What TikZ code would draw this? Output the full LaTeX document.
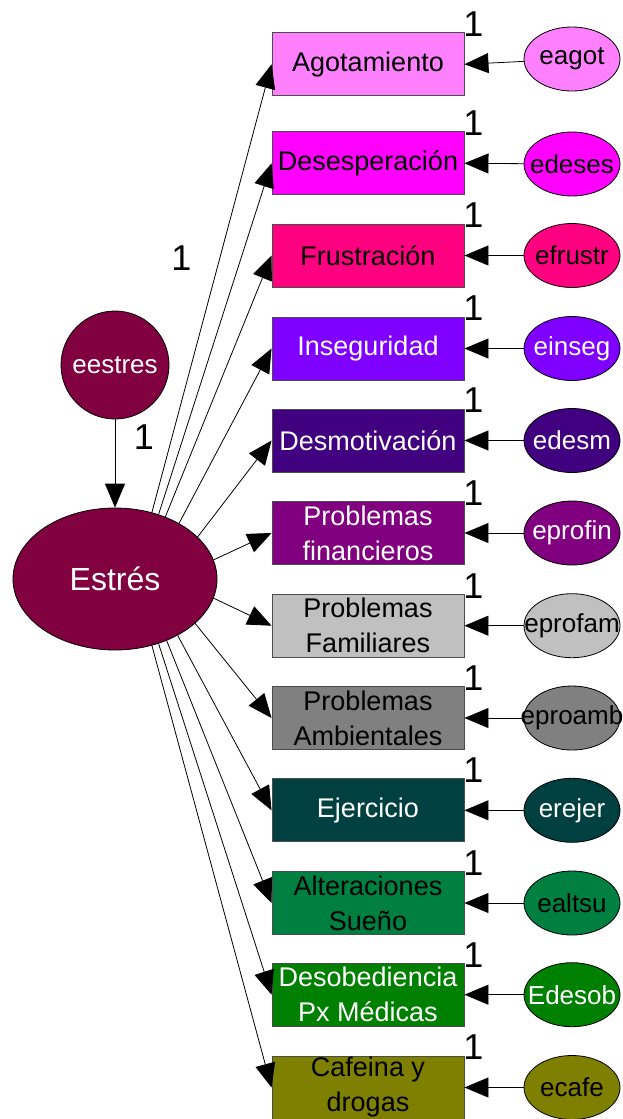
\documentclass[tikz,border=0pt]{standalone}
\usepackage{fontspec}
\setmainfont{Liberation Sans}
\usetikzlibrary{shapes.geometric,arrows.meta}
\definecolor{cA}{HTML}{FF80FF}
\definecolor{cB}{HTML}{FF00FF}
\definecolor{cC}{HTML}{FF0080}
\definecolor{cD}{HTML}{8000FF}
\definecolor{cEe}{HTML}{400080}
\definecolor{cF}{HTML}{800080}
\definecolor{cG}{HTML}{C0C0C0}
\definecolor{cH}{HTML}{808080}
\definecolor{cI}{HTML}{004040}
\definecolor{cJ}{HTML}{008040}
\definecolor{cK}{HTML}{008000}
\definecolor{cL}{HTML}{808000}
\definecolor{cS}{HTML}{800040}
\begin{document}
\begin{tikzpicture}[x=1pt,y=-1pt,
  obs/.style={draw=black!70, line width=0.9pt, minimum width=192pt, minimum height=63pt, inner sep=0pt, align=center, font=\fontsize{27}{35}\selectfont},
  err/.style={ellipse, draw=black, line width=0.8pt, minimum width=96pt, minimum height=64pt, inner sep=0pt, font=\fontsize{26}{30}\selectfont},
  arr/.style={-{Triangle[length=24pt,width=20pt]}, line width=0.8pt},
  one/.style={font=\fontsize{36}{36}\selectfont, inner sep=0pt}]
\useasboundingbox (0,0) rectangle (622,1119);

% latent
\node[circle, draw=black, line width=0.8pt, fill=cS, minimum size=108pt, inner sep=0pt, text=white, font=\fontsize{26}{30}\selectfont] (ee) at (115,365) {eestres};
\node[ellipse, draw=black, line width=0.8pt, fill=cS, minimum width=204pt, minimum height=142pt, inner sep=0pt, text=white, font=\fontsize{32}{36}\selectfont] (E) at (115,579) {Estrés};
\draw[arr] (ee) -- (E);
\node[one] (l0) at (144,437) {1};
\node[one] (l00) at (181.5,258.5) {1};

% observed
\node[obs, fill=cA, text=black] (A) at (368,64.3) {Agotamiento};
\node[obs, fill=cB, text=black] (B) at (368,163.3) {Desesperación};
\node[obs, fill=cC, text=black] (C) at (368,255.5) {Frustración};
\node[obs, fill=cD, text=white] (D) at (368,348.5) {Inseguridad};
\node[obs, fill=cEe, text=white] (Dm) at (368,440.5) {Desmotivación};
\node[obs, fill=cF, text=white] (F) at (368,533) {Problemas\\financieros};
\node[obs, fill=cG, text=black] (G) at (368,625.7) {Problemas\\Familiares};
\node[obs, fill=cH, text=black] (H) at (368,718) {Problemas\\Ambientales};
\node[obs, fill=cI, text=white] (I) at (368,810.3) {Ejercicio};
\node[obs, fill=cJ, text=black] (J) at (368,903) {Alteraciones\\Sueño};
\node[obs, fill=cK, text=white] (K) at (368,994.7) {Desobediencia\\Px Médicas};
\node[obs, fill=cL, text=black] (L) at (368,1087.5) {Cafeina y\\drogas};

% errors
\node[err, fill=cA, text=black] (eA) at (572,59) {\makebox[0pt]{eagot}};
\node[err, fill=cB, text=black] (eB) at (572,164) {\makebox[0pt]{edeses}};
\node[err, fill=cC, text=black] (eC) at (572,255.5) {\makebox[0pt]{efrustr}};
\node[err, fill=cD, text=white] (eD) at (572,348.5) {\makebox[0pt]{einseg}};
\node[err, fill=cEe, text=white] (eDm) at (572,440.5) {\makebox[0pt]{edesm}};
\node[err, fill=cF, text=white] (eF) at (572,533) {\makebox[0pt]{eprofin}};
\node[err, fill=cG, text=black] (eG) at (572,625.7) {\makebox[0pt]{eprofam}};
\node[err, fill=cH, text=black] (eH) at (572,718) {\makebox[0pt]{eproamb}};
\node[err, fill=cI, text=white] (eI) at (572,810.3) {\makebox[0pt]{erejer}};
\node[err, fill=cJ, text=black] (eJ) at (572,903) {\makebox[0pt]{ealtsu}};
\node[err, fill=cK, text=white] (eK) at (572,994.7) {\makebox[0pt]{Edesob}};
\node[err, fill=cL, text=black] (eL) at (572,1087.5) {\makebox[0pt]{ecafe}};

% loadings
\draw[arr] (E.61) -- (A.west);
\draw[arr] (E.56) -- (B.west);
\draw[arr] (E.51) -- (C.west);
\draw[arr] (E.41.5) -- (D.west);
\draw[arr] (E.27) -- (Dm.west);
\draw[arr] (E.11.5) -- (F.west);
\draw[arr] (E.-11.5) -- (G.west);
\draw[arr] (E.-29) -- (H.west);
\draw[arr] (E.-42.5) -- (I.west);
\draw[arr] (E.-50) -- (J.west);
\draw[arr] (E.-56) -- (K.west);
\draw[arr] (E.-61) -- (L.west);

% error arrows and labels
\foreach \n in {A,B,C,D,Dm,F,G,H,I,J,K,L}{
  \draw[arr] (e\n) -- (\n.east);
  \node[one] (o\n) at ([xshift=9pt,yshift=8pt]\n.north east) {1};
}
\end{tikzpicture}
\end{document}
